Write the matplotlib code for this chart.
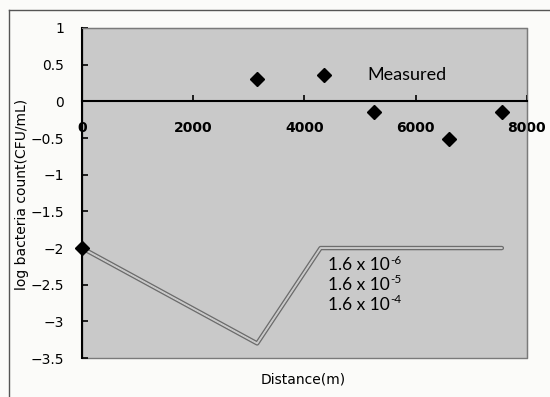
import matplotlib
matplotlib.use("Agg")
import matplotlib.pyplot as plt
from matplotlib.lines import Line2D
from matplotlib.patches import Rectangle

# measured points
dist_measured = [0, 3150, 4350, 5250, 6600, 7550]
log_measured = [-2.0, 0.30, 0.36, -0.15, -0.52, -0.15]

# model lines for three decay coefficients
dist_model = [0, 3150, 4290, 7550]
log_model_6 = [-2.0, -3.30, -2.0, -2.0]
log_model_5 = [-2.0, -3.30, -2.0, -2.0]
log_model_4 = [-2.0, -3.30, -2.0, -2.0]
model_base = ["1.6 x 10", "1.6 x 10", "1.6 x 10"]
model_exp = ["-6", "-5", "-4"]

x_ticks = [0, 2000, 4000, 6000, 8000]
y_ticks = [1, 0.5, 0, -0.5, -1, -1.5, -2, -2.5, -3, -3.5]

fig = plt.figure(figsize=(5.5, 3.97), dpi=100, facecolor="#fbfbf9")
ax = fig.add_axes([0.149, 0.098, 0.809, 0.8315])
ax.set_facecolor("#c9c9c9")

# model curves, drawn as a double line
ax.plot(dist_model, log_model_4, color="#6c6c6c", lw=3.2, solid_capstyle="round", zorder=2)
ax.plot(dist_model, log_model_5, color="#d2d2d2", lw=1.3, solid_capstyle="round", zorder=3)
ax.plot(dist_model, log_model_6, color="#c4c4c4", lw=0.5, zorder=3)

ax.plot(dist_measured, log_measured, linestyle="none", marker="D", markersize=7,
        color="black", clip_on=False, zorder=5)

ax.set_xlim(0, 8000)
ax.set_ylim(-3.5, 1)
ax.set_xticks(x_ticks)
ax.set_yticks(y_ticks)
ax.set_yticklabels([("%g" % v).replace("-", "\u2212") for v in y_ticks])

ax.spines["bottom"].set_position(("data", 0))
ax.spines["bottom"].set_linewidth(1.5)
ax.spines["left"].set_linewidth(1.5)
for s in ["top", "right"]:
    ax.spines[s].set_color("#7a7a7a")
    ax.spines[s].set_linewidth(0.8)
ax.add_patch(Rectangle((0, 0), 1, 1, transform=ax.transAxes, fill=False,
                       edgecolor="#7a7a7a", lw=1.0, zorder=1, clip_on=False))

ax.tick_params(axis="x", direction="in", length=4, width=1.2, pad=14,
               labelsize=10)
ax.tick_params(axis="y", direction="in", length=4, width=1.2, pad=13,
               labelsize=10)
for lab in ax.get_xticklabels():
    lab.set_fontweight("bold")

ax.set_xlabel("Distance(m)", fontsize=10)
ax.set_ylabel("log bacteria count(CFU/mL)", fontsize=10)
ax.xaxis.set_label_coords(0.497, -0.045)
ax.yaxis.set_label_coords(-0.118, 0.495)

ax.text(5130, 0.36, "Measured", fontsize=13, family="Lato", va="center", ha="left")
for i in range(len(model_base)):
    y = -2.23 - i * 0.27
    t = ax.text(4420, y, model_base[i], fontsize=12.5, family="Lato",
                va="center", ha="left")
    ax.annotate(model_exp[i], xy=(1, 0.5), xycoords=t, xytext=(0.5, 3.5),
                textcoords="offset points", fontsize=8.5, family="Lato",
                va="center", ha="left")

# outer frame
fig.add_artist(Line2D([9 / 550, 9 / 550], [0, 1 - 10 / 397], color="#555555", lw=1))
fig.add_artist(Line2D([9 / 550, 1], [1 - 10 / 397, 1 - 10 / 397], color="#555555", lw=1))

fig.savefig("out.png", dpi=100, facecolor=fig.get_facecolor())
